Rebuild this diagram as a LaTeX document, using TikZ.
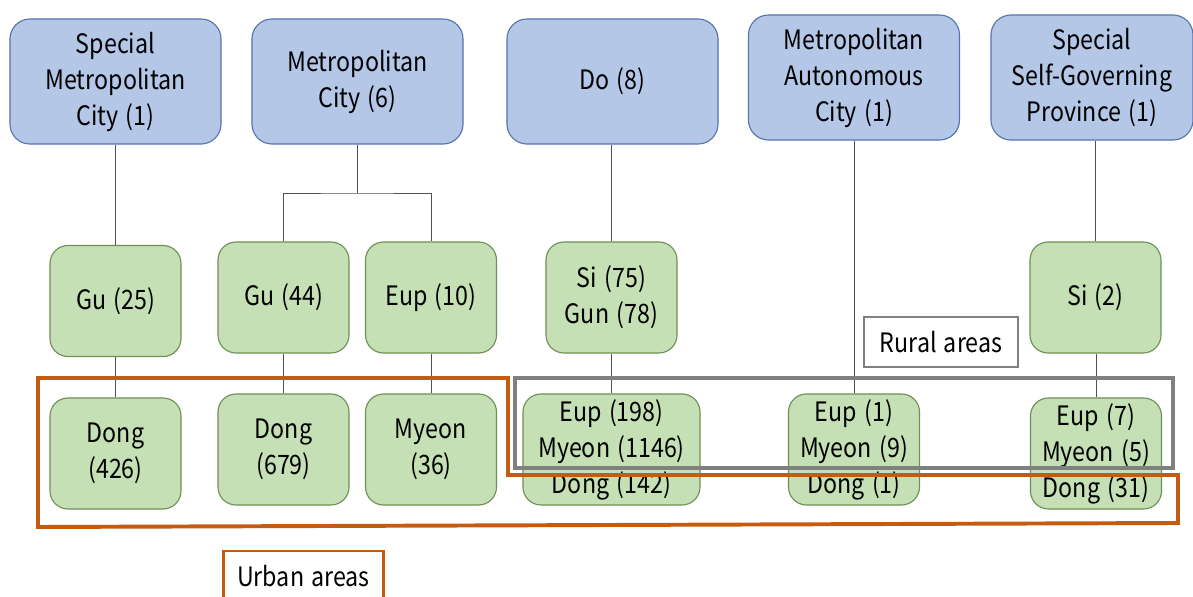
\documentclass[tikz,border=0pt]{standalone}
\usepackage{fontspec}
\setmainfont{Noto Sans CJK KR}[FakeStretch=0.87, WordSpace=1.4]
\usepackage{xcolor}
\definecolor{levelblue}{HTML}{B4C7E7}
\definecolor{levelblueline}{HTML}{5574AE}
\definecolor{unitgreen}{HTML}{C5E0B4}
\definecolor{unitgreenline}{HTML}{6E8F55}
\definecolor{urbanorange}{HTML}{C55A11}
\definecolor{ruralgray}{HTML}{808080}
\definecolor{linkgray}{HTML}{505050}

\begin{document}
\begin{tikzpicture}[
    x=0.025cm, y=-0.025cm,
    level/.style={rectangle, rounded corners=0.5cm, fill=levelblue, draw=levelblueline,
      line width=0.8pt, minimum width=5.275cm, minimum height=3.125cm, inner sep=0pt,
      align=center, font=\fontsize{19}{25.6}\selectfont},
    unit/.style={rectangle, rounded corners=0.45cm, fill=unitgreen, draw=unitgreenline,
      line width=0.8pt, minimum width=3.275cm, minimum height=2.775cm, inner sep=0pt,
      align=center, font=\fontsize{19}{25.6}\selectfont},
    link/.style={draw=linkgray, line width=0.7pt},
    area/.style={line width=2.8pt},
    tag/.style={rectangle, fill=white, line width=2pt, minimum height=1.25cm,
      inner sep=0pt, font=\fontsize{19}{25.6}\selectfont},
  ]

  \useasboundingbox (0,0) rectangle (1193,597);

  % ---- top level: local governments
  \node[level] (sm)  at (115.5,81.5) {Special\\Metropolitan\\City (1)};
  \node[level] (mc)  at (357.5,81.5) {Metropolitan\\City (6)};
  \node[level] (do)  at (612.5,81.5) {Do (8)};
  \node[level] (mac) at (854,77.5)   {Metropolitan\\Autonomous\\City (1)};
  \node[level, minimum width=5.05cm] (sgp) at (1092,77.5) {Special\\Self-Governing\\Province (1)};

  % ---- middle level
  \foreach \n/\x/\y/\t in {gu25/115.5/301/{Gu (25)}, gu44/283.5/297.5/{Gu (44)},
      eup10/431/297.5/{Eup (10)}, sigun/611.5/297.5/{Si (75)\\Gun (78)}, si2/1095.5/297.5/{Si (2)}} {
    \node[unit] (\n) at (\x,\y) {\t};
  }

  % ---- bottom level
  \foreach \n/\x/\y/\t in {dong426/115.5/453.5/{Dong\\(426)}, dong679/283.5/449.5/{Dong\\(679)},
      myeon36/431/449.5/{Myeon\\(36)}, eup1/854/449.5/{Eup (1)\\Myeon (9)\\Dong (1)},
      eup7/1096/453.5/{Eup (7)\\Myeon (5)\\Dong (31)}} {
    \node[unit] (\n) at (\x,\y) {\t};
  }
  \node[unit, minimum width=4.425cm] (eup198) at (611.5,449.5) {Eup (198)\\Myeon (1146)\\Dong (142)};

  % ---- straight links
  \foreach \a/\b in {sm/gu25, gu25/dong426, gu44/dong679, eup10/myeon36,
      do/sigun, sigun/eup198, mac/eup1, sgp/si2, si2/eup7} {
    \draw[link] (\b.north) -- (\b.north |- \a.south);
  }

  % ---- the metropolitan city splits in two
  \coordinate (mcsplit) at (357.5,193);
  \draw[link] (mc.south) -- (mcsplit);
  \draw[link] (gu44.north) |- (mcsplit) -| (eup10.north);

  % ---- urban and rural areas
  \draw[area, draw=urbanorange] (38,378) -- (508,378) -- (508,475) -- (1178,475)
    -- (1178,523) -- (38,527) -- cycle;
  \draw[area, draw=ruralgray] (515,378) rectangle (1173,468);

  \node[tag, draw=ruralgray, minimum width=3.85cm] (rural) at (941,342) {Rural areas};
  \node[tag, draw=urbanorange, minimum width=4.0cm] (urban) at (303.5,576) {Urban areas};

\end{tikzpicture}
\end{document}
